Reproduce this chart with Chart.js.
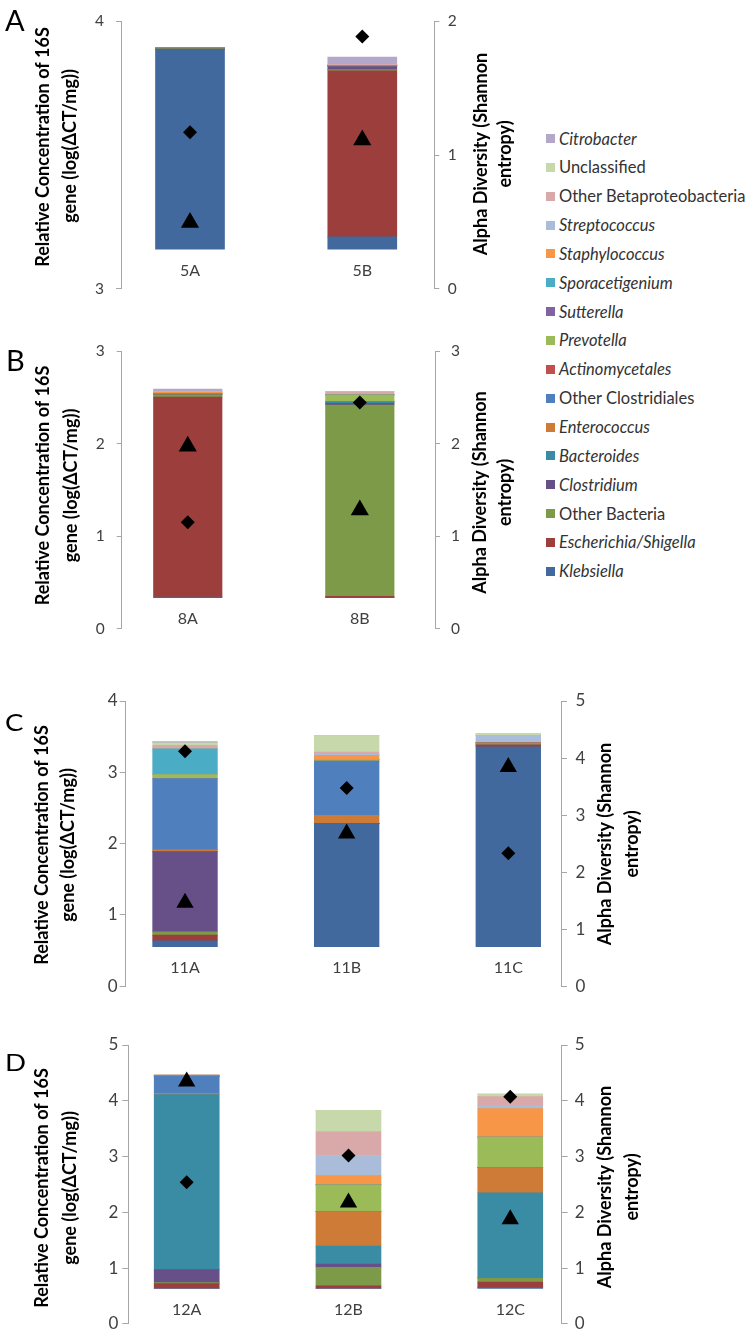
<!DOCTYPE html>
<html><head><meta charset="utf-8">
<script src="https://cdn.jsdelivr.net/npm/chart.js@4.4.1/dist/chart.umd.min.js"></script>
<style>
html,body{margin:0;padding:0;background:#fff;}
body{width:755px;height:1341px;position:relative;overflow:hidden;font-family:Lato,sans-serif;}
canvas{position:absolute;left:0;}
.letter{position:absolute;font-family:Lato,sans-serif;color:#000;line-height:1;transform-origin:0 0;}
.li{position:absolute;left:559px;font-size:16.5px;color:#333;white-space:nowrap;height:20px;line-height:20px;}
.sw{position:absolute;left:546px;width:9px;height:9px;}
</style></head><body>
<canvas id="cA" width="530" height="310" style="top:0px"></canvas>
<canvas id="cB" width="530" height="320" style="top:330px"></canvas>
<canvas id="cC" width="650" height="325" style="top:680px"></canvas>
<canvas id="cD" width="650" height="321" style="top:1020px"></canvas>
<div class="letter" style="left:5px;top:4.5px;font-size:29px">A</div>
<div class="letter" style="left:6px;top:345px;font-size:29px">B</div>
<div class="letter" style="left:5px;top:711px;font-size:23px;transform:scaleX(1.2)">C</div>
<div class="letter" style="left:5px;top:1051px;font-size:23px;transform:scaleX(1.2)">D</div>
<div id="legend"></div>
<script>
// ---- series (stack order, bottom to top) ----
const taxa = ['Klebsiella','Escherichia/Shigella','Other Bacteria','Clostridium','Bacteroides','Enterococcus','Other Clostridiales','Actinomycetales','Prevotella','Sutterella','Sporacetigenium','Staphylococcus','Streptococcus','Other Betaproteobacteria','Unclassified','Citrobacter'];
const taxaItalic = [true,true,false,true,true,true,false,true,true,true,true,true,true,false,false,true];
const taxaColors = ['#41699e','#9c3f3c','#7d9a48','#674f87','#3a8ba4','#cd7b37','#4f80bd','#c0504d','#9bbb59','#8064a2','#4bacc6','#f79646','#a9bcda','#d9a9a9','#c7d9ab','#b3a8c9'];

// ---- Panel A ----
const catsA = ['5A','5B'];
const baseA = [3.148, 3.148];
const bar5A = [0.747,0,0.002,0,0,0.003,0,0,0,0,0,0.002,0,0,0,0];
const bar5B = [0.046,0.621,0.004,0.012,0,0.004,0,0,0,0,0,0,0,0.004,0,0.027];
const diamondA = [1.17, 1.886];
const triangleA = [0.495, 1.112];

// ---- Panel B ----
const catsB = ['8A','8B'];
const baseB = [0.335, 0.335];
const bar8A = [0.008,2.162,0.024,0,0,0.015,0,0,0,0,0,0.013,0.010,0,0,0.025];
const bar8B = [0,0.015,2.068,0.020,0.015,0,0,0,0.076,0,0,0,0,0.036,0,0];
const diamondB = [1.151, 2.445];
const triangleB = [1.974, 1.283];

// ---- Panel C ----
const catsC = ['11A','11B','11C'];
const baseC = [0.556, 0.556, 0.556];
const bar11A = [0.083,0.078,0.047,1.124,0,0.027,0.999,0,0.055,0,0.361,0,0.010,0.040,0.035,0.016];
const bar11B = [1.724,0,0,0,0,0.116,0.762,0,0.023,0,0,0.056,0.015,0.031,0.231,0];
const bar11C = [2.802,0.025,0,0,0,0.030,0,0,0,0,0,0,0.106,0,0.027,0];
const diamondC = [4.121, 3.474, 2.33];
const triangleC = [1.463, 2.677, 3.844];

// ---- Panel D ----
const catsD = ['12A','12B','12C'];
const baseD = [0.633, 0.633, 0.633];
const bar12A = [0,0.088,0.018,0.234,3.136,0.025,0.309,0,0,0,0,0.018,0,0,0,0];
const bar12B = [0,0.046,0.334,0.060,0.322,0.616,0,0,0.480,0,0,0.165,0.363,0.429,0.380,0];
const bar12C = [0.015,0.102,0.070,0,1.530,0.452,0,0,0.545,0,0,0.511,0.058,0.158,0.047,0];
const diamondD = [2.538, 3.019, 4.074];
const triangleD = [4.345, 2.174, 1.875];

const leftTitle = ['Relative Concentration of 16S','gene (log(\u0394CT/mg))'];
const rightTitle = ['Alpha Diversity (Shannon','entropy)'];

Chart.defaults.font.family = 'Lato';
const AXIS = '#a6a6a6', TXT = '#404040';

const sideTitles = {
  id: 'sideTitles',
  afterDraw(chart, args, opts) {
    const ctx = chart.ctx;
    ctx.save();
    ctx.font = 'bold ' + opts.size + 'px Lato';
    ctx.fillStyle = '#000';
    ctx.textAlign = 'center';
    ctx.textBaseline = 'middle';
    (opts.items || []).forEach(it => {
      ctx.save();
      ctx.translate(it.x, it.y);
      ctx.rotate(-Math.PI / 2);
      ctx.fillText(it.text, 0, 0);
      ctx.restore();
    });
    ctx.restore();
  }
};

function makePanel(id, p) {
  const pts = arr => arr.map((v, i) => ({x: i, y: v}));
  const datasets = [{type: 'bar', label: 'base', data: pts(p.base), backgroundColor: 'rgba(0,0,0,0)', barThickness: p.barW, order: 2}];
  taxa.forEach((t, k) => datasets.push({
    type: 'bar', label: t, data: pts(p.bars.map(b => b[k])),
    backgroundColor: taxaColors[k], borderWidth: 0, barThickness: p.barW, order: 2
  }));
  datasets.push({type: 'scatter', label: 'Shannon entropy', data: pts(p.diamonds), yAxisID: 'y1',
    pointStyle: 'rectRot', pointRadius: 7, backgroundColor: '#000', borderWidth: 0, order: 1});
  datasets.push({type: 'scatter', label: 'Concentration', data: pts(p.triangles), yAxisID: 'y1',
    pointStyle: 'triangle', pointRadius: p.triR, backgroundColor: '#000', borderWidth: 0, order: 1});
  const tickFont = {size: p.tickSize};
  new Chart(document.getElementById(id), {
    type: 'bar',
    data: {datasets},
    plugins: [sideTitles],
    options: {
      responsive: false, animation: false, devicePixelRatio: 1,
      layout: {padding: {top: p.padT, bottom: p.padB, left: 0, right: 0}},
      plugins: {legend: {display: false}, tooltip: {enabled: false},
        sideTitles: {size: 18, items: p.titles}},
      scales: {
        x: {type: 'linear', position: {y: p.base[0]}, min: p.xMin, max: p.xMax, offset: false, stacked: true,
          grid: {display: false, drawTicks: false}, border: {display: false},
          afterBuildTicks: s => { s.ticks = p.cats.map((c, i) => ({value: i})); },
          ticks: {autoSkip: false, maxRotation: 0, padding: p.catPad, color: TXT, font: {size: 16},
            callback: v => p.cats[v]}},
        y: {position: 'left', stacked: true, min: p.yMin, max: p.yMax,
          afterFit: s => { s.width = p.leftW; },
          grid: {drawOnChartArea: false, color: AXIS, tickLength: p.tl},
          border: {color: AXIS},
          ticks: {stepSize: 1, padding: p.lPad, color: TXT, font: tickFont}},
        y1: {position: 'right', min: 0, max: p.y1Max,
          afterFit: s => { s.width = p.rightW; },
          grid: {drawOnChartArea: false, color: AXIS, tickLength: p.tl},
          border: {color: AXIS},
          ticks: {stepSize: 1, padding: p.rPad, color: TXT, font: tickFont}}
      }
    }
  });
}

makePanel('cA', {cats: catsA, base: baseA, bars: [bar5A, bar5B], diamonds: diamondA, triangles: triangleA,
  yMin: 3, yMax: 4, y1Max: 2, xMin: -0.4005, xMax: 1.418, barW: 69, triR: 10.5,
  padT: 11, padB: 12.3, leftW: 121, rightW: 95.7, tl: 5, lPad: 12, rPad: 8.5, tickSize: 15.5, catPad: 12,
  titles: [{text: leftTitle[0], x: 43.5, y: 147}, {text: leftTitle[1], x: 70.5, y: 146},
           {text: rightTitle[0], x: 481, y: 154}, {text: rightTitle[1], x: 505, y: 154}]});

makePanel('cB', {cats: catsB, base: baseB, bars: [bar8A, bar8B], diamonds: diamondB, triangles: triangleB,
  yMin: 0, yMax: 3, y1Max: 3, xMin: -0.384, xMax: 1.437, barW: 68.5, triR: 10.5,
  padT: 17.7, padB: 15.7, leftW: 121.7, rightW: 95, tl: 5, lPad: 12, rPad: 11, tickSize: 15.5, catPad: 12,
  titles: [{text: leftTitle[0], x: 43.3, y: 155.5}, {text: leftTitle[1], x: 70.8, y: 155.5},
           {text: rightTitle[0], x: 480, y: 162.5}, {text: rightTitle[1], x: 505, y: 162.5}]});

makePanel('cC', {cats: catsC, base: baseC, bars: [bar11A, bar11B, bar11C], diamonds: diamondC, triangles: triangleC,
  yMin: 0, yMax: 4, y1Max: 5, xMin: -0.367, xMax: 2.326, barW: 64.7, triR: 10,
  padT: 21, padB: 15.6, leftW: 125.7, rightW: 89, tl: 6, lPad: 2, rPad: 8.5, tickSize: 17, catPad: 12,
  titles: [{text: leftTitle[0], x: 42, y: 165}, {text: leftTitle[1], x: 68.5, y: 165},
           {text: rightTitle[0], x: 605.5, y: 164}, {text: rightTitle[1], x: 632, y: 164}]});

makePanel('cD', {cats: catsD, base: baseD, bars: [bar12A, bar12B, bar12C], diamonds: diamondD, triangles: triangleD,
  yMin: 0, yMax: 5, y1Max: 5, xMin: -0.361, xMax: 2.318, barW: 65, triR: 10,
  padT: 25, padB: 11.7, leftW: 128.3, rightW: 88.3, tl: 6, lPad: 4, rPad: 7, tickSize: 17, catPad: 12,
  titles: [{text: leftTitle[0], x: 42, y: 168}, {text: leftTitle[1], x: 70, y: 168},
           {text: rightTitle[0], x: 605.5, y: 167}, {text: rightTitle[1], x: 632, y: 167}]});

// ---- legend (top entry is last in stack) ----
const legend = document.getElementById('legend');
for (let j = 0; j < taxa.length; j++) {
  const k = taxa.length - 1 - j;
  const yc = 138.5 + j * 28.85;
  const sw = document.createElement('div');
  sw.className = 'sw'; sw.style.top = (yc - 4.5) + 'px'; sw.style.background = taxaColors[k];
  legend.appendChild(sw);
  const tx = document.createElement('div');
  tx.className = 'li'; tx.style.top = (yc - 10) + 'px';
  tx.style.fontStyle = taxaItalic[k] ? 'italic' : 'normal';
  tx.textContent = taxa[k];
  legend.appendChild(tx);
}
</script>
</body></html>
